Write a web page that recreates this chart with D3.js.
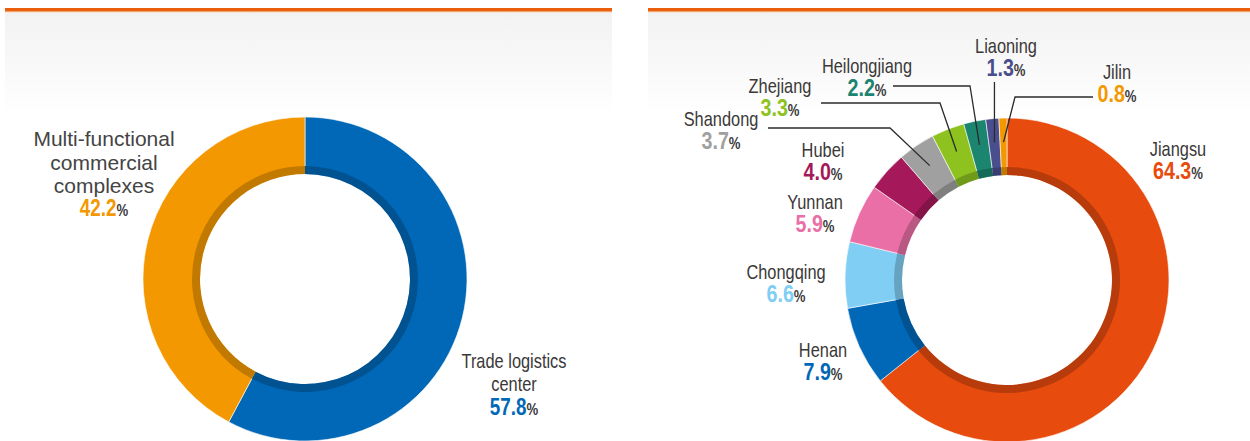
<!DOCTYPE html>
<html>
<head>
<meta charset="utf-8">
<script src="https://cdn.jsdelivr.net/npm/d3@7"></script>
<style>
  html, body { margin: 0; padding: 0; background: #fff; }
  svg { display: block; }
  text { font-family: "Liberation Sans", Arial, sans-serif; }
</style>
</head>
<body>
<svg id="chart" width="1250" height="441"></svg>
<script>
// left donut: clockwise from 12 o'clock
const leftNames = ["Trade logistics center", "Multi-functional commercial complexes"];
const leftValues = [57.8, 42.2];
const leftColors = ["#0068b7", "#f39800"];

// right donut: clockwise from 12 o'clock
const rightNames = ["Jiangsu", "Henan", "Chongqing", "Yunnan", "Hubei", "Shandong", "Zhejiang", "Heilongjiang", "Liaoning", "Jilin"];
const rightValues = [64.3, 7.9, 6.6, 5.9, 4.0, 3.7, 3.3, 2.2, 1.3, 0.8];
const rightColors = ["#e84b0e", "#0068b7", "#80cef3", "#ea6fa6", "#a5195b", "#a0a0a0", "#8dc21f", "#1b8570", "#4b4e8e", "#f39800"];

const svg = d3.select("#chart");

// panel backgrounds
const defs = svg.append("defs");
const grad = defs.append("linearGradient").attr("id", "bg").attr("x1", 0).attr("x2", 0).attr("y1", 0).attr("y2", 1);
grad.append("stop").attr("offset", "0%").attr("stop-color", "#f2f2f2");
grad.append("stop").attr("offset", "100%").attr("stop-color", "#ffffff");

const panels = [{ x0: 5, x1: 612 }, { x0: 648, x1: 1250 }];
panels.forEach(p => {
  svg.append("rect").attr("x", p.x0).attr("y", 11).attr("width", p.x1 - p.x0).attr("height", 105).attr("fill", "url(#bg)");
  svg.append("rect").attr("x", p.x0).attr("y", 8).attr("width", p.x1 - p.x0).attr("height", 3).attr("fill", "#e95f0b");
  svg.append("rect").attr("x", p.x0).attr("y", 11).attr("width", p.x1 - p.x0).attr("height", 1.2).attr("fill", "#f4a66e");
});

const R = 162, r0 = 105, band = 113;
const pie = d3.pie().sort(null).value(d => d.value);
const arc = d3.arc().innerRadius(r0).outerRadius(R);
const bandArc = d3.arc().innerRadius(r0).outerRadius(band);

function donut(cx, cy, names, values, colors) {
  const color = d3.scaleOrdinal(names, colors);
  const data = pie(names.map((n, i) => ({ name: n, value: values[i] })));
  const g = svg.append("g").attr("transform", `translate(${cx},${cy})`);
  g.selectAll("path.slice").data(data).join("path")
    .attr("class", "slice")
    .attr("d", arc)
    .attr("fill", d => color(d.data.name))
    .attr("stroke", "#fff").attr("stroke-width", 0.6);
  g.selectAll("path.band").data(data).join("path")
    .attr("class", "band")
    .attr("d", bandArc)
    .attr("fill", d => d3.color(color(d.data.name)).darker(0.65));
  return { data, color };
}

// text label: name lines + bold value with small %
function label(x, y, lines, value, col, opt = {}) {
  const sx = opt.sx || 0.82;
  const fs = opt.fs || 20;
  const g = svg.append("g").attr("transform", `translate(${x},${y}) scale(${sx},1)`);
  const t = g.append("text").attr("text-anchor", "middle");
  lines.forEach((l, i) => {
    t.append("tspan").attr("x", 0).attr("dy", i ? 23.5 : 0)
      .attr("font-size", fs).attr("font-weight", 400).attr("fill", opt.tc || "#3b3838").text(l);
  });
  const vg = svg.append("g").attr("transform", `translate(${x},${y + (lines.length - 1) * 23.5 + 23}) scale(0.82,1)`);
  const v = vg.append("text").attr("text-anchor", "middle");
  v.append("tspan").attr("font-size", opt.vs || 24).attr("font-weight", 700).attr("fill", col).text(value.toFixed(1));
  v.append("tspan").attr("font-size", 16).attr("font-weight", 700).attr("fill", "#3b3838").text("%");
}

// ---------- left ----------
const L = donut(305, 279, leftNames, leftValues, leftColors);
label(104, 146, ["Multi-functional", "commercial", "complexes"], leftValues[1], L.color(leftNames[1]), { sx: 1, fs: 21, tc: "#444", vs: 23 });
label(514, 368, ["Trade logistics", "center"], leftValues[0], L.color(leftNames[0]), { vs: 23 });

// ---------- right ----------
const RC = { x: 1007, y: 280 };
const Rt = donut(RC.x, RC.y, rightNames, rightValues, rightColors);

// label anchors and leader elbows (layout only)
const rightLayout = {
  Jiangsu:      { x: 1178, y: 156 },
  Henan:        { x: 823,  y: 357 },
  Chongqing:    { x: 786,  y: 279 },
  Yunnan:       { x: 815,  y: 209 },
  Hubei:        { x: 823,  y: 157 },
  Shandong:     { x: 721,  y: 126, lead: { y: 128, x0: 768, x1: 890 } },
  Zhejiang:     { x: 780,  y: 93,  lead: { y: 103, x0: 821, x1: 940 } },
  Heilongjiang: { x: 867,  y: 73,  lead: { y: 86,  x0: 893, x1: 970 } },
  Liaoning:     { x: 1006, y: 53,  lead: { y: 82,  x0: null } },
  Jilin:        { x: 1117, y: 79,  lead: { y: 97,  x0: 1093, x1: 1015 } }
};

Rt.data.forEach(d => {
  const lay = rightLayout[d.data.name];
  label(lay.x, lay.y, [d.data.name], d.data.value, Rt.color(d.data.name));
  if (lay.lead) {
    const a = (d.startAngle + d.endAngle) / 2;
    const rr = 138;
    const ex = RC.x + rr * Math.sin(a), ey = RC.y - rr * Math.cos(a);
    const pts = lay.lead.x0 === null
      ? [[ex, lay.lead.y]]
      : [[lay.lead.x0, lay.lead.y], [lay.lead.x1, lay.lead.y]];
    pts.push([ex, ey]);
    svg.append("path")
      .attr("d", d3.line()(pts))
      .attr("fill", "none").attr("stroke", "#2b2b2b").attr("stroke-width", 1.3);
  }
});
</script>
</body>
</html>
